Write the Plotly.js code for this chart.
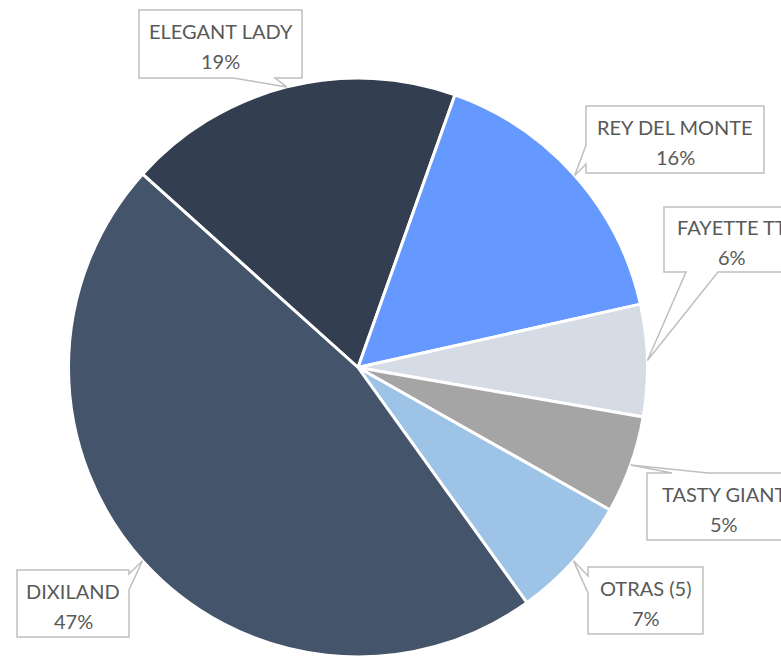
<!DOCTYPE html>
<html><head><meta charset="utf-8">
<script src="https://cdn.plot.ly/plotly-3.0.1.min.js"></script>
<style>html,body{margin:0;padding:0;background:#fff}#chart{width:781px;height:657px}</style>
</head><body><div id="chart"></div>
<script>
// ---- data ----
const labels = ["ELEGANT LADY", "REY DEL MONTE", "FAYETTE TT", "TASTY GIANT", "OTRAS (5)", "DIXILAND"];
const values = [18.8, 16.05, 6.25, 5.45, 6.9, 46.55];
const colors = ["#333F50", "#6699FF", "#D6DCE5", "#A5A5A5", "#9DC3E6", "#44546A"];

// ---- layout constants (pixels) ----
const W = 781, H = 657;
const CX = 358, CY = 367.5, R = 289.5;
const ROT = -48.1;
// callout boxes: [x0,y0,x1,y1], tail side, tail base (two coords along that side)
const boxes = [
  {b:[139,10,302,78], side:"bottom", base:[233,275]},
  {b:[586,106,764,173], side:"left", base:[145,164]},
  {b:[664,207,800,272], side:"bottom", base:[686,718]},
  {b:[647,473,800,540], side:"top", base:[672,708]},
  {b:[588,567,703,634], side:"left", base:[576,593]},
  {b:[17,570,129,637], side:"right", base:[574,590]}
];

const px = x => x / W, py = y => 1 - y / H;
const total = values.reduce((a, b) => a + b, 0);

// tips at slice mid-angle on the rim, from the data
let cum = 0;
const tips = values.map(v => {
  const mid = ROT + (cum + v / 2) / total * 360;
  cum += v;
  const a = mid * Math.PI / 180;
  return [CX + R * Math.sin(a), CY - R * Math.cos(a)];
});

const shapes = [], annotations = [];
boxes.forEach((c, i) => {
  const [x0, y0, x1, y1] = c.b, [t0, t1] = c.base, [tx, ty] = tips[i];
  let pts;
  if (c.side === "bottom") pts = [[x0,y0],[x1,y0],[x1,y1],[t1,y1],[tx,ty],[t0,y1],[x0,y1]];
  else if (c.side === "top") pts = [[x0,y0],[t0,y0],[tx,ty],[t1,y0],[x1,y0],[x1,y1],[x0,y1]];
  else if (c.side === "left") pts = [[x0,y0],[x1,y0],[x1,y1],[x0,y1],[x0,t1],[tx,ty],[x0,t0]];
  else pts = [[x0,y0],[x1,y0],[x1,t0],[tx,ty],[x1,t1],[x1,y1],[x0,y1]];
  const path = pts.map((p, k) => (k ? "L" : "M") + px(p[0]).toFixed(5) + "," + py(p[1]).toFixed(5)).join(" ") + " Z";
  shapes.push({type: "path", xref: "paper", yref: "paper", path: path,
    line: {color: "#BFBFBF", width: 1.5}, fillcolor: "#FFFFFF", layer: "above"});
  const cx = (x0 + x1) / 2, cy = (y0 + y1) / 2;
  const pct = Math.round(values[i] / total * 100) + "%";
  [[labels[i], cy - 13], [pct, cy + 17]].forEach(([t, y]) => annotations.push({
    xref: "paper", yref: "paper", x: px(cx), y: py(y), xanchor: "center", yanchor: "middle",
    text: t, showarrow: false, font: {family: "Lato, 'Open Sans', sans-serif", size: 20, color: "#595959"}
  }));
});

Plotly.newPlot("chart", [{
  type: "pie", labels: labels, values: values, sort: false, direction: "clockwise",
  rotation: ROT, textinfo: "none", hoverinfo: "label+percent",
  marker: {colors: colors, line: {color: "#FFFFFF", width: 3}},
  domain: {x: [px(CX - R), px(CX + R)], y: [0, 2 * R / H]}
}], {
  width: W, height: H, margin: {l: 0, r: 0, t: 0, b: 0}, showlegend: false,
  paper_bgcolor: "#FFFFFF", shapes: shapes, annotations: annotations
}, {displayModeBar: false, staticPlot: true});
</script></body></html>
